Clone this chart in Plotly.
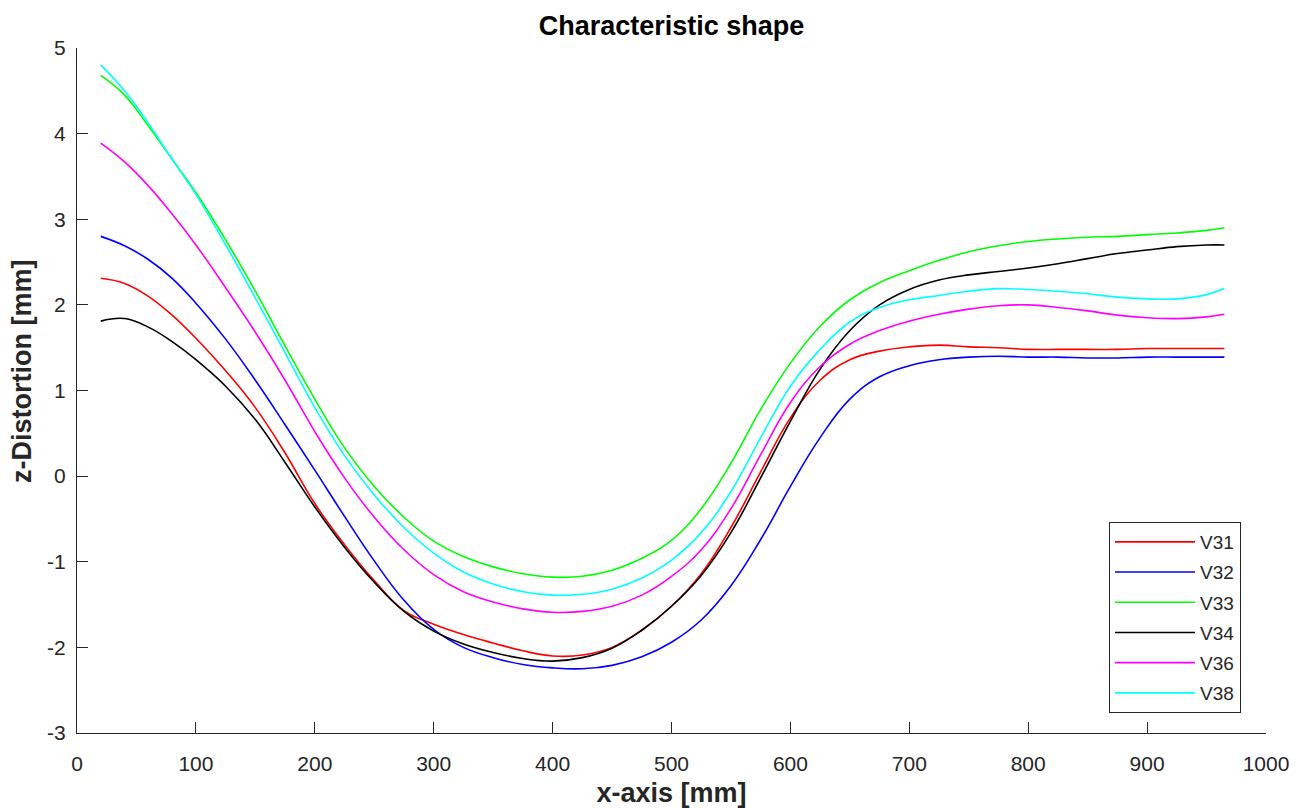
import plotly.graph_objects as go

# Sample positions along the part [mm]
x_mm = [20, 40, 60, 80, 100, 125, 150, 175, 200, 225, 250, 275, 300, 325, 350,
        375, 400, 425, 450, 475, 500, 525, 550, 575, 600, 625, 650, 675, 700,
        725, 750, 775, 800, 825, 850, 875, 900, 925, 950, 965]

# z-distortion per specimen [mm]
v31 = [2.31, 2.25, 2.10, 1.88, 1.61, 1.23, 0.80, 0.27, -0.32, -0.80, -1.22, -1.57,
       -1.73, -1.85, -1.95, -2.04, -2.10, -2.09, -2.00, -1.80, -1.52, -1.14, -0.60,
       0.05, 0.68, 1.12, 1.36, 1.46, 1.51, 1.53, 1.51, 1.50, 1.48, 1.48, 1.48, 1.48,
       1.49, 1.49, 1.49, 1.49]
v32 = [2.80, 2.69, 2.53, 2.31, 2.02, 1.60, 1.12, 0.60, 0.07, -0.47, -0.99, -1.45,
       -1.79, -2.00, -2.12, -2.20, -2.24, -2.25, -2.21, -2.11, -1.94, -1.68, -1.28,
       -0.74, -0.12, 0.45, 0.90, 1.16, 1.29, 1.36, 1.39, 1.40, 1.39, 1.39, 1.38, 1.38,
       1.39, 1.39, 1.39, 1.39]
v33 = [4.68, 4.45, 4.09, 3.70, 3.31, 2.76, 2.16, 1.52, 0.90, 0.33, -0.12, -0.48,
       -0.76, -0.94, -1.06, -1.14, -1.18, -1.17, -1.10, -0.96, -0.75, -0.38, 0.15,
       0.78, 1.32, 1.75, 2.06, 2.26, 2.40, 2.52, 2.62, 2.69, 2.74, 2.77, 2.79, 2.80,
       2.82, 2.84, 2.87, 2.90]
v34 = [1.81, 1.84, 1.74, 1.57, 1.36, 1.05, 0.66, 0.16, -0.36, -0.83, -1.24, -1.58,
       -1.81, -1.96, -2.06, -2.13, -2.16, -2.12, -2.01, -1.80, -1.52, -1.16, -0.66,
       -0.02, 0.64, 1.25, 1.70, 2.00, 2.18, 2.29, 2.35, 2.39, 2.43, 2.48, 2.54, 2.60,
       2.64, 2.68, 2.70, 2.70]
v36 = [3.89, 3.67, 3.39, 3.06, 2.70, 2.20, 1.68, 1.12, 0.52, -0.02, -0.48, -0.86,
       -1.15, -1.35, -1.47, -1.55, -1.59, -1.58, -1.52, -1.39, -1.17, -0.86, -0.38,
       0.25, 0.86, 1.28, 1.54, 1.70, 1.81, 1.89, 1.95, 1.99, 2.00, 1.97, 1.93, 1.88,
       1.85, 1.84, 1.86, 1.89]
v38 = [4.80, 4.50, 4.12, 3.70, 3.29, 2.70, 2.08, 1.44, 0.80, 0.24, -0.22, -0.60,
       -0.90, -1.12, -1.26, -1.35, -1.39, -1.38, -1.32, -1.19, -0.98, -0.66, -0.18,
       0.45, 1.05, 1.48, 1.80, 1.97, 2.06, 2.11, 2.16, 2.19, 2.18, 2.16, 2.13, 2.09,
       2.07, 2.07, 2.12, 2.19]

series = [
    ("V31", v31, "#ff0000"),
    ("V32", v32, "#0000ff"),
    ("V33", v33, "#00ff00"),
    ("V34", v34, "#000000"),
    ("V36", v36, "#ff00ff"),
    ("V38", v38, "#00ffff"),
]

x_ticks = [0, 100, 200, 300, 400, 500, 600, 700, 800, 900, 1000]
y_ticks = [-3, -2, -1, 0, 1, 2, 3, 4, 5]
y_tick_text = [str(v) for v in y_ticks]   # plain hyphen for negatives

FONT = "Liberation Sans, Arial, Helvetica, sans-serif"
AXIS_GREY = "#262626"

fig = go.Figure()
for name, ys, color in series:
    fig.add_trace(go.Scatter(
        x=x_mm, y=ys, name=name, legendgroup=name, mode="lines",
        line=dict(color=color, width=1.6, shape="spline", smoothing=1.2),
    ))

fig.update_layout(
    width=1307, height=808,
    margin=dict(l=77, r=41, t=48, b=75),
    paper_bgcolor="white", plot_bgcolor="white",
    font=dict(family=FONT, color=AXIS_GREY),
    title=dict(
        text="<b>Characteristic shape</b>",
        font=dict(size=27, color="#000000", family=FONT),
        x=0.5, xref="paper", xanchor="center",
        y=1 - 26 / 808, yref="container", yanchor="middle",
    ),
    xaxis=dict(
        range=[0, 1000], tickvals=x_ticks, automargin=False,
        showline=True, linecolor=AXIS_GREY, linewidth=1,
        ticks="inside", ticklen=11, tickcolor=AXIS_GREY, tickwidth=1,
        showgrid=False, zeroline=False,
        tickfont=dict(size=21, color=AXIS_GREY),
        ticklabelstandoff=12,
        title=dict(text="<b>x-axis [mm]</b>", font=dict(size=27, color=AXIS_GREY),
                   standoff=10),
    ),
    yaxis=dict(
        range=[-3, 5], tickvals=y_ticks, ticktext=y_tick_text, automargin=False,
        showline=True, linecolor=AXIS_GREY, linewidth=1,
        ticks="inside", ticklen=11, tickcolor=AXIS_GREY, tickwidth=1,
        showgrid=False, zeroline=False,
        tickfont=dict(size=21, color=AXIS_GREY),
        ticklabelstandoff=6,
    ),
    annotations=[dict(
        text="<b>z-Distortion [mm]</b>", textangle=-90,
        xref="paper", yref="paper", x=-55 / 1189, y=(733 - 372) / 685,
        xanchor="center", yanchor="middle", showarrow=False,
        font=dict(size=27, color=AXIS_GREY, family=FONT),
    )],
    legend=dict(
        x=(1109 - 77) / 1189, y=(733 - 522) / 685,
        xanchor="left", yanchor="top",
        bgcolor="white", bordercolor=AXIS_GREY, borderwidth=1,
        font=dict(size=19, color=AXIS_GREY),
        itemwidth=80, tracegroupgap=2.5,
    ),
    showlegend=True,
)

fig.write_html("out.html")
